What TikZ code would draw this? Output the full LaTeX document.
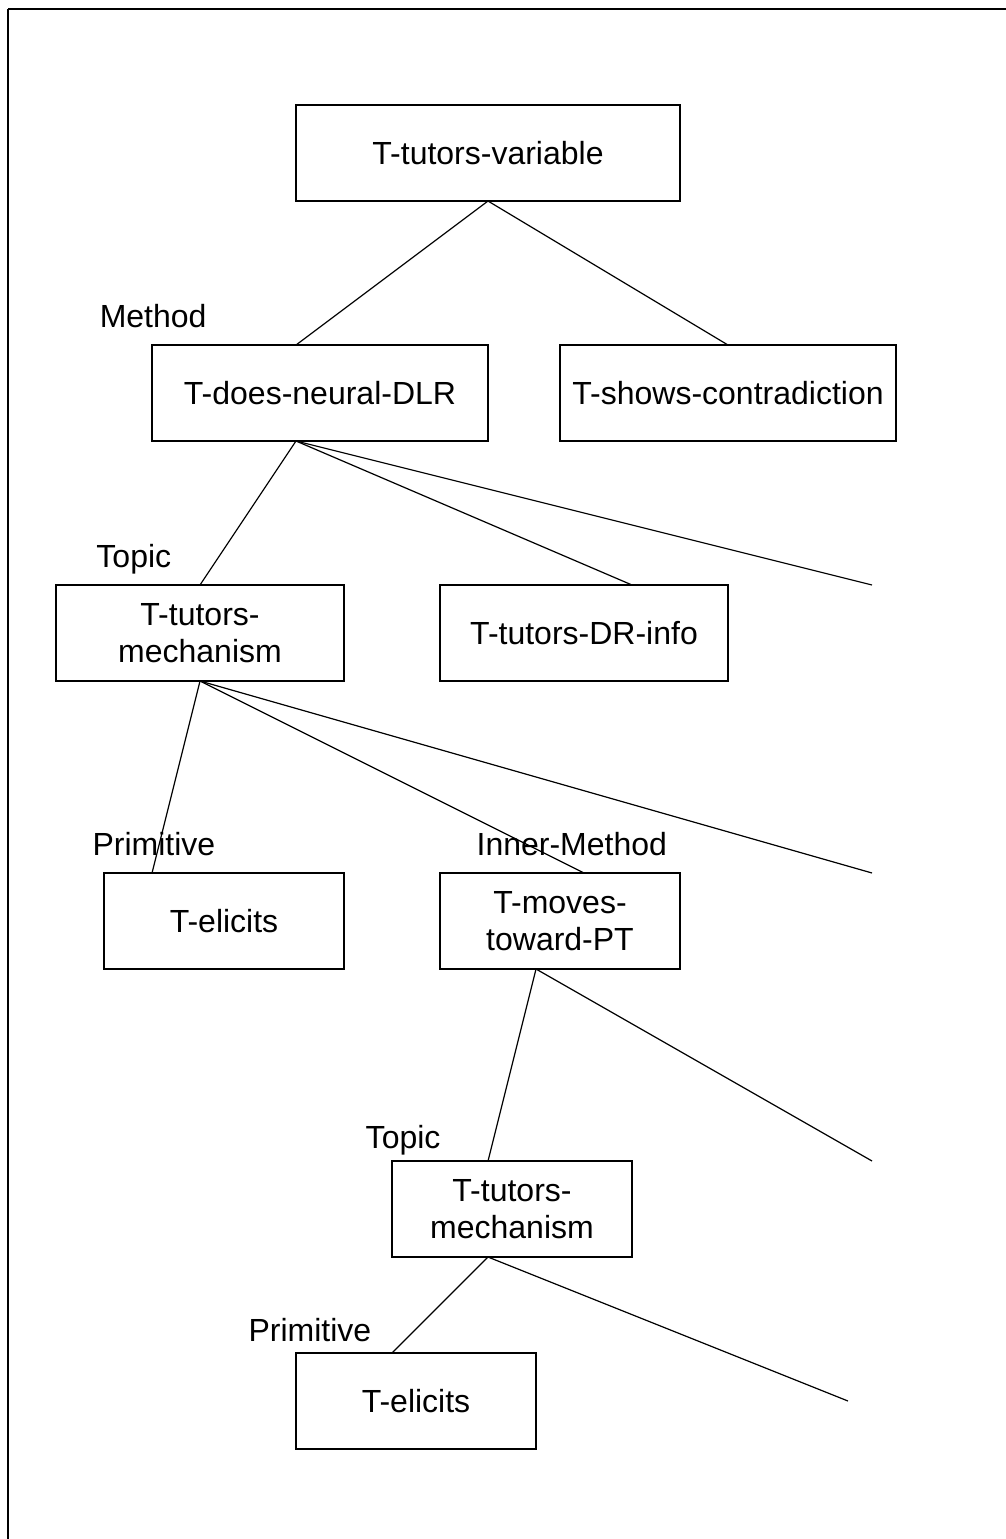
\documentclass[tikz,border=0pt]{standalone}
\usepackage{fontspec}
\setmainfont{Liberation Sans}
\usepackage{tikz}
\usetikzlibrary{positioning}

\begin{document}
\begin{tikzpicture}[%
    x=36pt,
    y=-36pt,
    line width=0.9pt,
    node distance=72pt,
    task/.style={%
      rectangle,
      draw,
      minimum height=72pt,
      inner sep=0pt,
      outer sep=0pt,
      align=center,
      font=\fontsize{24}{27.6}\selectfont
    },
    tag/.style={%
      anchor=base west,
      inner sep=0pt,
      font=\fontsize{24}{27.6}\selectfont
    }
  ]
    \useasboundingbox (-0.1667,-0.1875) rectangle (20.771,31.875);
    \draw[line width=0.8pt] (0,32) -- (0,0);
    \draw[line width=1.5pt] (0,0) -- (21,0);
    \draw[line width=2pt] (0,1.0) -- (0,1.52);

    \node[task, minimum width=288pt] (root) at (10,3)                  {T-tutors-variable};
    \node[task, minimum width=252pt] (dlr) at (6.5,8)                  {T-does-neural-DLR};
    \node[task, minimum width=252pt] (contra) [right=54pt of dlr]      {T-shows-contradiction};
    \node[task, minimum width=216pt] (mechA) at (4,13)                 {T-tutors-\\mechanism};
    \node[task, minimum width=216pt] (drinfo) [right=of mechA]         {T-tutors-DR-info};
    \node[task, minimum width=180pt] (elicitsA) at (4.5,19)            {T-elicits};
    \node[task, minimum width=180pt] (moves) [right=of elicitsA]       {T-moves-\\toward-PT};
    \node[task, minimum width=180pt] (mechB) at (10.5,25)              {T-tutors-\\mechanism};
    \node[task, minimum width=180pt] (elicitsB) at (8.5,29)            {T-elicits};

    \node[tag] (method) at (1.9,6.625)   {Method};
    \node[tag] (topicA) at (1.83,11.625) {Topic};
    \node[tag] (primA) at (1.75,17.625)  {Primitive};
    \node[tag] (inner) at (9.75,17.625)  {Inner-Method};
    \node[tag] (topicB) at (7.44,23.73)  {Topic};
    \node[tag] (primB) at (5,27.75)      {Primitive};

    \coordinate (endA) at (18,12);
    \coordinate (endB) at (18,18);
    \coordinate (endC) at (18,24);
    \coordinate (endD) at (17.5,29);

    \path (root.south)               edge ([xshift=-18pt]dlr.north)
          (root.south)               edge (contra.north)
          ([xshift=-18pt]dlr.south)  edge (mechA.north)
          ([xshift=-18pt]dlr.south)  edge ([xshift=36pt]drinfo.north)
          ([xshift=-18pt]dlr.south)  edge (endA)
          (mechA.south)              edge ([xshift=-54pt]elicitsA.north)
          (mechA.south)              edge ([xshift=18pt]moves.north)
          (mechA.south)              edge (endB)
          ([xshift=-18pt]moves.south) edge ([xshift=-18pt]mechB.north)
          ([xshift=-18pt]moves.south) edge (endC)
          ([xshift=-18pt]mechB.south) edge ([xshift=-18pt]elicitsB.north)
          ([xshift=-18pt]mechB.south) edge (endD)
          ;
  \end{tikzpicture}
\end{document}
